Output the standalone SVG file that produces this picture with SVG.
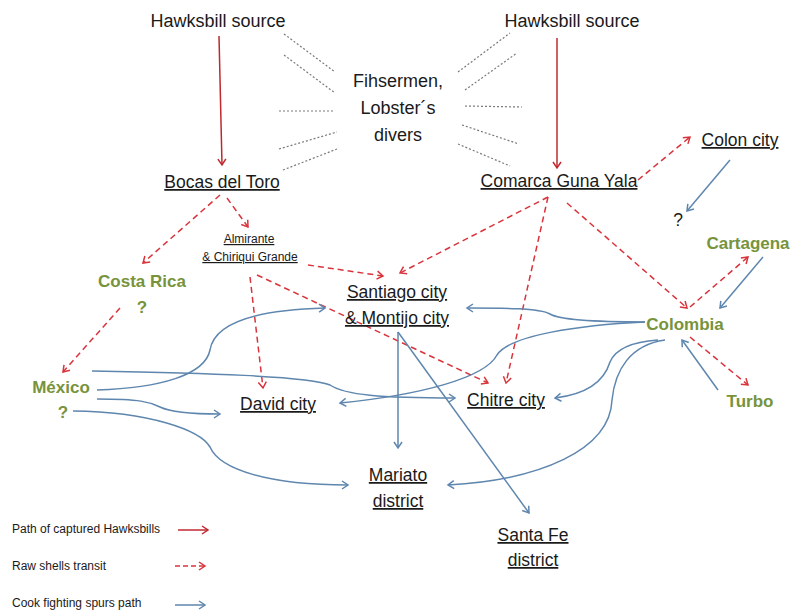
<svg xmlns="http://www.w3.org/2000/svg" width="794" height="615" viewBox="0 0 794 615">
<style>
text{font-family:"Liberation Sans",Arial,sans-serif;fill:#1a1a1a;text-anchor:middle}
.big{font-size:18px}
.u{text-decoration:underline}
.node{font-size:17.5px}
.grn{font-size:17px;font-weight:bold;fill:#77933C}
.sm{font-size:12px}
.leg{font-size:12px;text-anchor:start}
.dot{stroke:#7a7a7a;stroke-width:1.2;stroke-dasharray:2 2;fill:none}
.red{stroke:#C0282E;stroke-width:1.5;fill:none;marker-end:url(#ar)}
.rd{stroke:#D9343C;stroke-width:1.5;stroke-dasharray:6 4;fill:none;marker-end:url(#ard)}
.bl{stroke:#5E86AE;stroke-width:1.5;fill:none;marker-end:url(#ab)}
</style>
<defs>
<marker id="ar" markerWidth="12" markerHeight="12" refX="9" refY="6" orient="auto" markerUnits="userSpaceOnUse"><path d="M3,2 L9,6 L3,10" fill="none" stroke="#C0282E" stroke-width="1.5"/></marker>
<marker id="ard" markerWidth="12" markerHeight="12" refX="9" refY="6" orient="auto" markerUnits="userSpaceOnUse"><path d="M3,2 L9,6 L3,10" fill="none" stroke="#D9343C" stroke-width="1.5"/></marker>
<marker id="ab" markerWidth="12" markerHeight="12" refX="9" refY="6" orient="auto" markerUnits="userSpaceOnUse"><path d="M3,2 L9,6 L3,10" fill="none" stroke="#5E86AE" stroke-width="1.5"/></marker>
</defs>
<rect width="794" height="615" fill="#fff"/>

<g id="connectors">
<g id="dotted">
<line class="dot" x1="284" y1="34" x2="335" y2="72"/>
<line class="dot" x1="284" y1="55" x2="335" y2="93"/>
<line class="dot" x1="279" y1="111" x2="335" y2="111"/>
<line class="dot" x1="279" y1="149" x2="337" y2="132"/>
<line class="dot" x1="283" y1="170" x2="337" y2="149"/>
<line class="dot" x1="458" y1="72" x2="510" y2="33"/>
<line class="dot" x1="465" y1="90" x2="517" y2="53"/>
<line class="dot" x1="465" y1="106" x2="522" y2="107"/>
<line class="dot" x1="462" y1="125" x2="519" y2="144"/>
<line class="dot" x1="458" y1="144" x2="510" y2="166"/>
</g>
<line class="red" x1="219" y1="36" x2="222" y2="165"/>
<line class="red" x1="557" y1="38" x2="557" y2="168"/>

<line class="rd" x1="638" y1="180" x2="690" y2="137"/>
<line class="rd" x1="567" y1="203" x2="687" y2="308"/>
<line class="rd" x1="690" y1="307" x2="748" y2="257"/>
<line class="rd" x1="690" y1="337" x2="748" y2="385"/>
<line class="rd" x1="548" y1="197" x2="400" y2="273"/>
<line class="rd" x1="548" y1="197" x2="506" y2="383"/>
<line class="rd" x1="220" y1="195" x2="143" y2="263"/>
<line class="rd" x1="227" y1="198" x2="248" y2="227"/>
<line class="rd" x1="120" y1="308" x2="63" y2="372"/>
<line class="rd" x1="308" y1="265" x2="383" y2="276"/>
<line class="rd" x1="250" y1="277" x2="263" y2="388"/>
<line class="rd" x1="257" y1="275" x2="488" y2="383"/>

<line class="bl" x1="730" y1="160" x2="687" y2="211"/>
<line class="bl" x1="763" y1="257" x2="720" y2="308"/>
<line class="bl" x1="718" y1="390" x2="682" y2="340"/>
<line class="bl" x1="398" y1="332" x2="398" y2="448"/>
<line class="bl" x1="398" y1="332" x2="529" y2="513"/>

<path class="bl" d="M97,390 C160,388 205,375 210,350 C214,325 250,310 325,308"/>
<path class="bl" d="M92,371 C200,373 310,376 330,385 C345,395 380,398 455,398"/>
<path class="bl" d="M97,399 C140,399 150,402 160,407 C172,413 195,414 220,414"/>
<path class="bl" d="M73,411 C150,412 200,430 210,447 C220,470 270,485 348,485"/>
<path class="bl" d="M645,322 C600,322 560,320 550,314 C540,308 500,308 467,308"/>
<path class="bl" d="M645,322 C580,325 510,335 497,355 C485,378 420,395 340,403"/>
<path class="bl" d="M658,340 C630,342 615,350 610,362 C603,385 580,395 555,398"/>
<path class="bl" d="M665,340 C630,345 615,370 612,400 C610,450 540,480 448,485"/>
</g>

<g id="hawksbill-left"><text class="big" x="218" y="27">Hawksbill source</text></g>
<g id="hawksbill-right"><text class="big" x="572" y="27">Hawksbill source</text></g>
<g id="fishermen"><text class="big" x="398" y="87">Fihsermen,</text><text class="big" x="398" y="114">Lobster´s</text><text class="big" x="398" y="141">divers</text></g>
<g id="bocas"><text class="node u" x="222" y="188">Bocas del Toro</text></g>
<g id="comarca"><text class="node u" x="559" y="187">Comarca Guna Yala</text></g>
<g id="colon"><text class="node u" x="740" y="146">Colon city</text></g>
<g id="colon-q"><text class="node" x="678" y="226">?</text></g>
<g id="almirante"><text class="sm u" x="249" y="243">Almirante</text><text class="sm u" x="250" y="261">&amp; Chiriqui Grande</text></g>
<g id="costarica"><text class="grn" x="142" y="287">Costa Rica</text><text class="grn" x="142" y="313">?</text></g>
<g id="mexico"><text class="grn" x="61" y="393">México</text><text class="grn" x="63" y="418">?</text></g>
<g id="santiago"><text class="node u" x="397" y="298">Santiago city</text><text class="node u" x="397" y="324">&amp; Montijo city</text></g>
<g id="david"><text class="node u" x="278" y="410">David city</text></g>
<g id="chitre"><text class="node u" x="506" y="406">Chitre city</text></g>
<g id="mariato"><text class="node u" x="398" y="481">Mariato</text><text class="node u" x="398" y="507">district</text></g>
<g id="santafe"><text class="node u" x="533" y="541">Santa Fe</text><text class="node u" x="533" y="566">district</text></g>
<g id="cartagena"><text class="grn" x="748" y="249">Cartagena</text></g>
<g id="colombia"><text class="grn" x="685" y="330">Colombia</text></g>
<g id="turbo"><text class="grn" x="750" y="407">Turbo</text></g>

<g id="legend">
<text class="leg" x="12" y="533">Path of captured Hawksbills</text>
<line class="red" x1="178" y1="530" x2="208" y2="530"/>
<text class="leg" x="12" y="570">Raw shells transit</text>
<line class="rd" x1="175" y1="566" x2="205" y2="566" style="stroke-dasharray:5 3"/>
<text class="leg" x="12" y="607">Cook fighting spurs path</text>
<line class="bl" x1="175" y1="605" x2="205" y2="605"/>
</g>
</svg>
